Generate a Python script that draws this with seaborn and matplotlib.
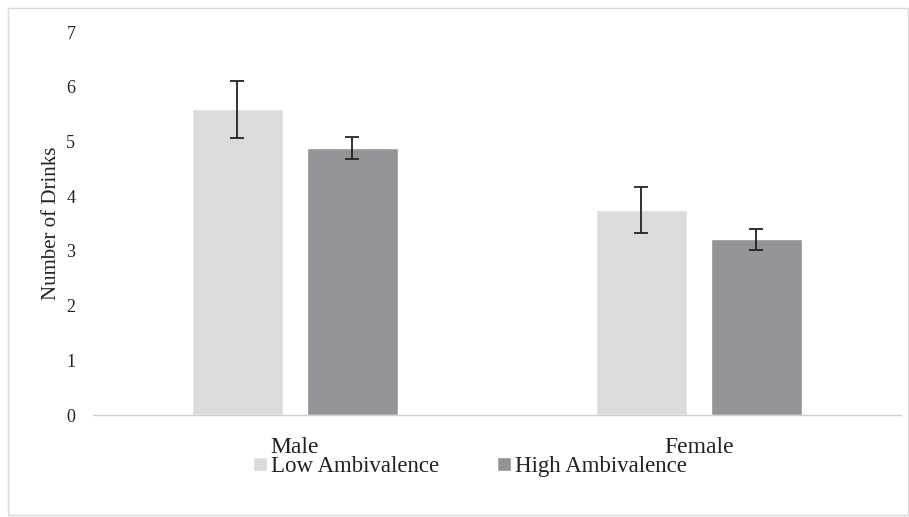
import matplotlib
matplotlib.use("Agg")
import matplotlib.pyplot as plt
import seaborn as sns
import pandas as pd
from matplotlib.patches import Rectangle

genders = ["Male", "Female"]
groups = ["Low Ambivalence", "High Ambivalence"]
low_means = [5.59, 3.75]
high_means = [4.88, 3.21]
low_err = [0.52, 0.42]
high_err = [0.20, 0.19]
colors = ["#DADBDD", "#939497"]

rows = []
for i, g in enumerate(genders):
    rows.append({"Gender": g, "Group": groups[0], "Drinks": low_means[i], "err": low_err[i]})
    rows.append({"Gender": g, "Group": groups[1], "Drinks": high_means[i], "err": high_err[i]})
df = pd.DataFrame(rows)

sns.set_theme(style="white")
plt.rcParams["font.family"] = ["Liberation Serif", "DejaVu Serif"]

fig = plt.figure(figsize=(9.09, 5.17), dpi=100)
ax = fig.add_axes([0.102, 0.197, 0.889, 0.741])
sns.barplot(data=df, x="Gender", y="Drinks", hue="Group", order=genders,
            hue_order=groups, palette=colors, width=0.569, gap=0.209,
            errorbar=None, ax=ax, saturation=1)

# error bars at bar centres
for container, errs, means in zip(ax.containers, [low_err, high_err], [low_means, high_means]):
    for patch, e, m in zip(container, errs, means):
        cx = patch.get_x() + patch.get_width() / 2
        ax.errorbar(cx, m, yerr=e, fmt="none", ecolor="#222222", elinewidth=1.3,
                    capsize=5, capthick=1.3)

ax.set_ylim(0, 7)
ax.set_xlim(-0.5, 1.5)
ax.set_yticks(range(0, 8))
ax.tick_params(axis="y", labelsize=13, length=0, pad=12.5, colors="#222222")
ax.tick_params(axis="x", labelsize=17, length=0, pad=15.5, colors="#222222")
ax.set_xlabel("")
ax.set_ylabel("Number of Drinks", fontsize=15, color="#222222", labelpad=3.5)
for s in ["top", "right", "left"]:
    ax.spines[s].set_visible(False)
ax.spines["bottom"].set_color("#CFCFCF")
ax.spines["bottom"].set_linewidth(1.0)

leg = ax.legend(loc="lower center", bbox_to_anchor=(0.467, -0.215), ncol=2,
                frameon=False, fontsize=16.5, handlelength=0.6, handleheight=0.6,
                handletextpad=0.2, columnspacing=2.5)
for t in leg.get_texts():
    t.set_color("#222222")

fig.patches.append(Rectangle((0.009, 0.004), 0.99, 0.981, transform=fig.transFigure,
                             fill=False, edgecolor="#D9D9D9", linewidth=1.0))

fig.savefig("out.png", dpi=100)
